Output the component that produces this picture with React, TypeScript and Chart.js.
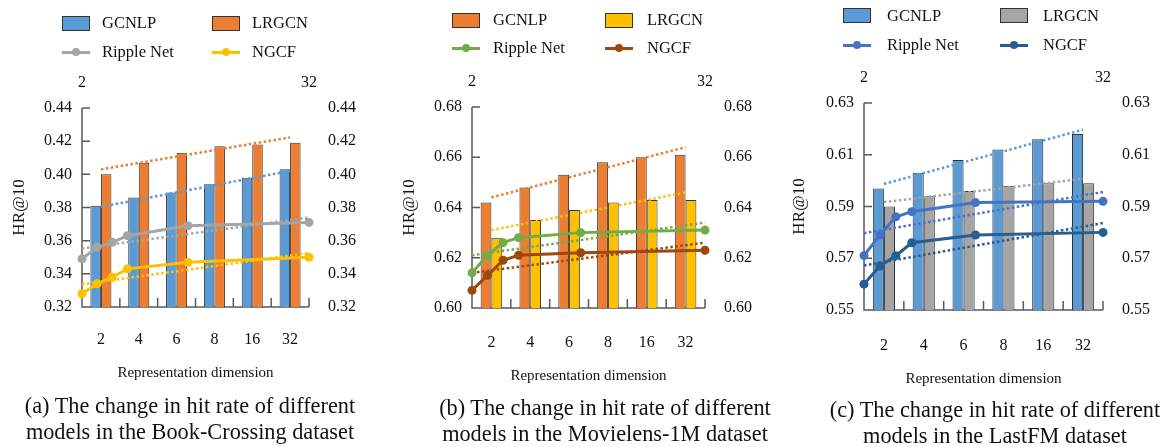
import React, { useEffect, useRef } from 'react';
import { Chart, registerables } from 'chart.js';

Chart.register(...registerables);

const FONT = '"Liberation Serif", "Times New Roman", Times, serif';

// ---- shared categories / ticks ----
const dimLabels = ['2', '4', '6', '8', '16', '32'];
const dims = [2, 4, 6, 8, 16, 32];
const topTicks = [2, 32];
const seriesNames = ['GCNLP', 'LRGCN', 'Ripple Net', 'NGCF'];
const xTitle = 'Representation dimension';
const yTitle = 'HR@10';

// ---- (a) Book-Crossing ----
const gcnlpA = [0.381, 0.386, 0.389, 0.394, 0.398, 0.403];
const lrgcnA = [0.4, 0.407, 0.413, 0.417, 0.418, 0.419];
const rippleA = [0.349, 0.356, 0.359, 0.363, 0.369, 0.371];
const ngcfA = [0.328, 0.334, 0.338, 0.343, 0.347, 0.35];
const trendGcnlpA = [0.3804, 0.4021];
const trendLrgcnA = [0.403, 0.4223];
const trendRippleA = [0.3553, 0.374];
const trendNgcfA = [0.3337, 0.3526];
const yRangeA = [0.32, 0.44];
const captionA = ['(a) The change in hit rate of different', 'models in the Book-Crossing dataset'];

// ---- (b) Movielens-1M ----
const gcnlpB = [0.642, 0.648, 0.653, 0.658, 0.66, 0.661];
const lrgcnB = [0.628, 0.635, 0.639, 0.642, 0.643, 0.643];
const rippleB = [0.614, 0.621, 0.626, 0.628, 0.63, 0.631];
const ngcfB = [0.607, 0.613, 0.619, 0.621, 0.622, 0.623];
const trendGcnlpB = [0.644, 0.664];
const trendLrgcnB = [0.631, 0.646];
const trendRippleB = [0.621, 0.634];
const trendNgcfB = [0.614, 0.626];
const yRangeB = [0.6, 0.68];
const captionB = ['(b) The change in hit rate of different', 'models in the Movielens-1M dataset'];

// ---- (c) LastFM ----
const gcnlpC = [0.597, 0.603, 0.608, 0.612, 0.616, 0.618];
const lrgcnC = [0.59, 0.594, 0.596, 0.598, 0.599, 0.599];
const rippleC = [0.571, 0.579, 0.586, 0.588, 0.5915, 0.592];
const ngcfC = [0.56, 0.567, 0.571, 0.576, 0.579, 0.58];
const trendGcnlpC = [0.5987, 0.6197];
const trendLrgcnC = [0.5917, 0.6007];
const trendRippleC = [0.5797, 0.5956];
const trendNgcfC = [0.5672, 0.5836];
const yRangeC = [0.55, 0.63];
const captionC = ['(c) The change in hit rate of different', 'models in the LastFM dataset'];

type Panel = {
  bars: number[][];
  lines: number[][];
  barTrends: number[][];
  lineTrends: number[][];
  yRange: number[];
  caption: string[];
  colors: string[];
  // layout (page px)
  left: number;
  width: number;
  chartLeft: number;
  chartRight: number;
  chartTop: number;
  chartBottom: number;
  labelY: number;
  titleY: number;
  legendRows: number[];
  legendIconX: number[];
  legendTextX: number[];
  captionX: number;
  captionY: number;
};

const panels: Panel[] = [
  {
    bars: [gcnlpA, lrgcnA],
    lines: [rippleA, ngcfA],
    barTrends: [trendGcnlpA, trendLrgcnA],
    lineTrends: [trendRippleA, trendNgcfA],
    yRange: yRangeA,
    caption: captionA,
    colors: ['#5B9BD5', '#ED7D31', '#A5A5A5', '#FFC000'],
    left: 0, width: 390, chartLeft: 82, chartRight: 309, chartTop: 108, chartBottom: 307,
    labelY: 340, titleY: 373,
    legendRows: [23, 52], legendIconX: [62, 212], legendTextX: [102, 252],
    captionX: 190, captionY: 406,
  },
  {
    bars: [gcnlpB, lrgcnB],
    lines: [rippleB, ngcfB],
    barTrends: [trendGcnlpB, trendLrgcnB],
    lineTrends: [trendRippleB, trendNgcfB],
    yRange: yRangeB,
    caption: captionB,
    colors: ['#ED7D31', '#FFC000', '#70AD47', '#9E480E'],
    left: 390, width: 390, chartLeft: 472, chartRight: 705, chartTop: 107, chartBottom: 308,
    labelY: 343, titleY: 376,
    legendRows: [20, 48], legendIconX: [452, 605], legendTextX: [493, 647],
    captionX: 605, captionY: 408,
  },
  {
    bars: [gcnlpC, lrgcnC],
    lines: [rippleC, ngcfC],
    barTrends: [trendGcnlpC, trendLrgcnC],
    lineTrends: [trendRippleC, trendNgcfC],
    yRange: yRangeC,
    caption: captionC,
    colors: ['#5B9BD5', '#A5A5A5', '#4472C4', '#255E91'],
    left: 780, width: 386, chartLeft: 864, chartRight: 1103, chartTop: 103, chartBottom: 310,
    labelY: 346, titleY: 379,
    legendRows: [15.5, 45], legendIconX: [843, 1000], legendTextX: [887, 1043],
    captionX: 995, captionY: 410,
  },
];

const H = 447;
const AXIS_COLOR = '#595959';
const TEXT_COLOR = '#111111';
const TICK_LEN = 8; // Chart.js default grid.tickLength, counted in label offsets
const DOT_DASH = [2.5, 2.5];

// Axis lines with inward tick marks, drawn from the chart's own scales.
const axisPlugin = {
  id: 'axisDeco',
  beforeDatasetsDraw(chart: any) {
    const { ctx, chartArea: ca, scales } = chart;
    const y = scales.y;
    const x = scales.x;
    ctx.save();
    ctx.strokeStyle = AXIS_COLOR;
    ctx.lineWidth = 1.5;
    ctx.beginPath();
    ctx.moveTo(ca.left, ca.top);
    ctx.lineTo(ca.left, ca.bottom);
    ctx.lineTo(ca.right, ca.bottom);
    y.ticks.forEach((t: any) => {
      const py = y.getPixelForValue(t.value);
      ctx.moveTo(ca.left, py);
      ctx.lineTo(ca.left + 8, py);
    });
    const n = x.ticks.length;
    for (let i = 0; i <= n; i++) {
      const px =
        i === 0 ? ca.left : i === n ? ca.right : (x.getPixelForValue(i - 1) + x.getPixelForValue(i)) / 2;
      ctx.moveTo(px, ca.bottom);
      ctx.lineTo(px, ca.bottom - 9);
    }
    ctx.stroke();
    ctx.restore();
  },
};

// Linear trend lines of the bar series (first to last category), drawn over the bars.
const barTrendPlugin = {
  id: 'barTrends',
  afterDatasetsDraw(chart: any, _args: any, opts: any) {
    if (!opts || !opts.trends) return;
    const { ctx, scales } = chart;
    const x = scales.x;
    const y = scales.y;
    const last = x.ticks.length - 1;
    ctx.save();
    ctx.lineWidth = 2.5;
    ctx.setLineDash(DOT_DASH);
    opts.trends.forEach((tr: number[], k: number) => {
      ctx.strokeStyle = opts.colors[k];
      ctx.beginPath();
      ctx.moveTo(x.getPixelForValue(0), y.getPixelForValue(tr[0]));
      ctx.lineTo(x.getPixelForValue(last), y.getPixelForValue(tr[1]));
      ctx.stroke();
    });
    ctx.restore();
  },
};

function PanelChart({ p }: { p: Panel }) {
  const barRef = useRef<HTMLCanvasElement | null>(null);
  const lineRef = useRef<HTMLCanvasElement | null>(null);
  useEffect(() => {
    if (!barRef.current || !lineRef.current) return;
    const tickFont = { family: FONT, size: 16 };
    const fmt = (v: any) => Number(v).toFixed(2);

    // ---- bars + axes ----
    const barChart = new Chart(barRef.current, {
      type: 'bar',
      data: {
        labels: dimLabels,
        datasets: p.bars.map((vals, k) => ({
          label: seriesNames[k], data: vals, backgroundColor: p.colors[k],
          borderColor: '#333333', borderWidth: 1,
        })),
      },
      options: {
        responsive: false,
        animation: false,
        events: [],
        layout: { padding: 0 },
        datasets: { bar: { categoryPercentage: 0.556, barPercentage: 1 } },
        plugins: {
          legend: { display: false },
          tooltip: { enabled: false },
          title: { display: false },
          barTrends: { trends: p.barTrends, colors: [p.colors[0], p.colors[1]] },
        },
        scales: {
          x: {
            type: 'category', position: 'bottom', offset: true,
            grid: { display: false }, border: { display: false },
            ticks: {
              font: tickFont, color: TEXT_COLOR, padding: p.labelY - p.chartBottom - 9.6 - TICK_LEN,
              maxRotation: 0, autoSkip: false,
            },
            title: {
              display: true, text: xTitle, color: TEXT_COLOR,
              font: { family: FONT, size: 15 },
              padding: { top: 0, bottom: H - p.titleY - 9 },
            },
            afterFit: (s: any) => { s.height = H - p.chartBottom; },
          },
          x2: {
            type: 'linear', position: 'top', min: topTicks[0], max: topTicks[1], offset: false,
            grid: { display: false }, border: { display: false },
            afterBuildTicks: (s: any) => { s.ticks = topTicks.map((v) => ({ value: v })); },
            ticks: { font: tickFont, color: TEXT_COLOR, padding: 8, maxRotation: 0, autoSkip: false },
            afterFit: (s: any) => { s.height = p.chartTop; },
          },
          y: {
            type: 'linear', position: 'left', min: p.yRange[0], max: p.yRange[1],
            grid: { display: false }, border: { display: false },
            ticks: { stepSize: 0.02, callback: fmt, font: tickFont, color: TEXT_COLOR, padding: 2 },
            title: {
              display: true, text: yTitle, color: TEXT_COLOR,
              font: { family: FONT, size: 17 }, padding: { top: 9, bottom: 0 },
            },
            afterFit: (s: any) => { s.width = p.chartLeft - p.left; },
          },
          y2: {
            type: 'linear', position: 'right', min: p.yRange[0], max: p.yRange[1],
            grid: { display: false }, border: { display: false },
            ticks: { stepSize: 0.02, callback: fmt, font: tickFont, color: TEXT_COLOR, padding: 11 },
            afterFit: (s: any) => { s.width = p.left + p.width - p.chartRight; },
          },
        },
      } as any,
      plugins: [axisPlugin, barTrendPlugin],
    });

    // ---- line series on the top (2..32) axis, overlaid with the same plot area ----
    const lineDatasets: any[] = [];
    p.lineTrends.forEach((tr, k) => {
      lineDatasets.push({
        label: seriesNames[k + 2] + ' trend',
        data: [{ x: topTicks[0], y: tr[0] }, { x: topTicks[1], y: tr[1] }],
        borderColor: p.colors[k + 2], borderWidth: 2.5, borderDash: DOT_DASH,
        pointRadius: 0, fill: false, order: 1, clip: false,
      });
    });
    p.lines.forEach((vals, k) => {
      lineDatasets.push({
        label: seriesNames[k + 2],
        data: dims.map((d, i) => ({ x: d, y: vals[i] })),
        borderColor: p.colors[k + 2], backgroundColor: p.colors[k + 2], borderWidth: 3,
        pointRadius: 4.5, pointBorderWidth: 0, pointBackgroundColor: p.colors[k + 2],
        tension: 0, fill: false, order: 0, clip: false,
      });
    });
    const lineChart = new Chart(lineRef.current, {
      type: 'line',
      data: { datasets: lineDatasets },
      options: {
        responsive: false,
        animation: false,
        events: [],
        layout: {
          padding: {
            left: p.chartLeft - p.left,
            right: p.left + p.width - p.chartRight,
            top: p.chartTop,
            bottom: H - p.chartBottom,
          },
        },
        plugins: { legend: { display: false }, tooltip: { enabled: false }, title: { display: false } },
        scales: {
          x: { type: 'linear', min: topTicks[0], max: topTicks[1], display: false },
          y: { type: 'linear', min: p.yRange[0], max: p.yRange[1], display: false },
        },
      } as any,
    });
    return () => {
      barChart.destroy();
      lineChart.destroy();
    };
  }, [p]);

  const legendFont = `16.5px ${FONT}`;
  const items = seriesNames.map((name, k) => {
    const row = k < 2 ? 0 : 1;
    const col = k % 2;
    const cy = p.legendRows[row];
    const ix = p.legendIconX[col];
    const tx = p.legendTextX[col];
    const color = p.colors[k];
    return (
      <React.Fragment key={name}>
        {row === 0 ? (
          <div
            style={{
              position: 'absolute', left: ix, top: cy - 7.5, width: 28, height: 15,
              background: color, border: '1px solid #333333', boxSizing: 'border-box',
            }}
          />
        ) : (
          <>
            <div style={{ position: 'absolute', left: ix, top: cy - 1.5, width: 28, height: 3, background: color }} />
            <div
              style={{
                position: 'absolute', left: ix + 14 - 4, top: cy - 4, width: 8, height: 8,
                borderRadius: 4, background: color,
              }}
            />
          </>
        )}
        <span
          style={{
            position: 'absolute', left: tx, top: cy - 10, lineHeight: '20px', font: legendFont,
            color: TEXT_COLOR, whiteSpace: 'nowrap',
          }}
        >
          {name}
        </span>
      </React.Fragment>
    );
  });

  const canvasStyle: React.CSSProperties = {
    position: 'absolute', left: p.left, top: 0, width: p.width, height: H,
  };
  return (
    <>
      <canvas ref={barRef} width={p.width} height={H} style={canvasStyle} />
      <canvas ref={lineRef} width={p.width} height={H} style={canvasStyle} />
      {items}
      <div
        style={{
          position: 'absolute', left: p.captionX - 200, width: 400, top: p.captionY - 13,
          textAlign: 'center', font: `22.3px ${FONT}`, lineHeight: '26px', color: TEXT_COLOR,
          whiteSpace: 'nowrap',
        }}
      >
        {p.caption.map((line) => (
          <div key={line}>{line}</div>
        ))}
      </div>
    </>
  );
}

export default function App() {
  return (
    <div
      style={{
        position: 'fixed', left: 0, top: 0, width: 1166, height: H, background: '#ffffff',
        overflow: 'hidden',
      }}
    >
      {panels.map((p, i) => (
        <PanelChart key={i} p={p} />
      ))}
    </div>
  );
}
